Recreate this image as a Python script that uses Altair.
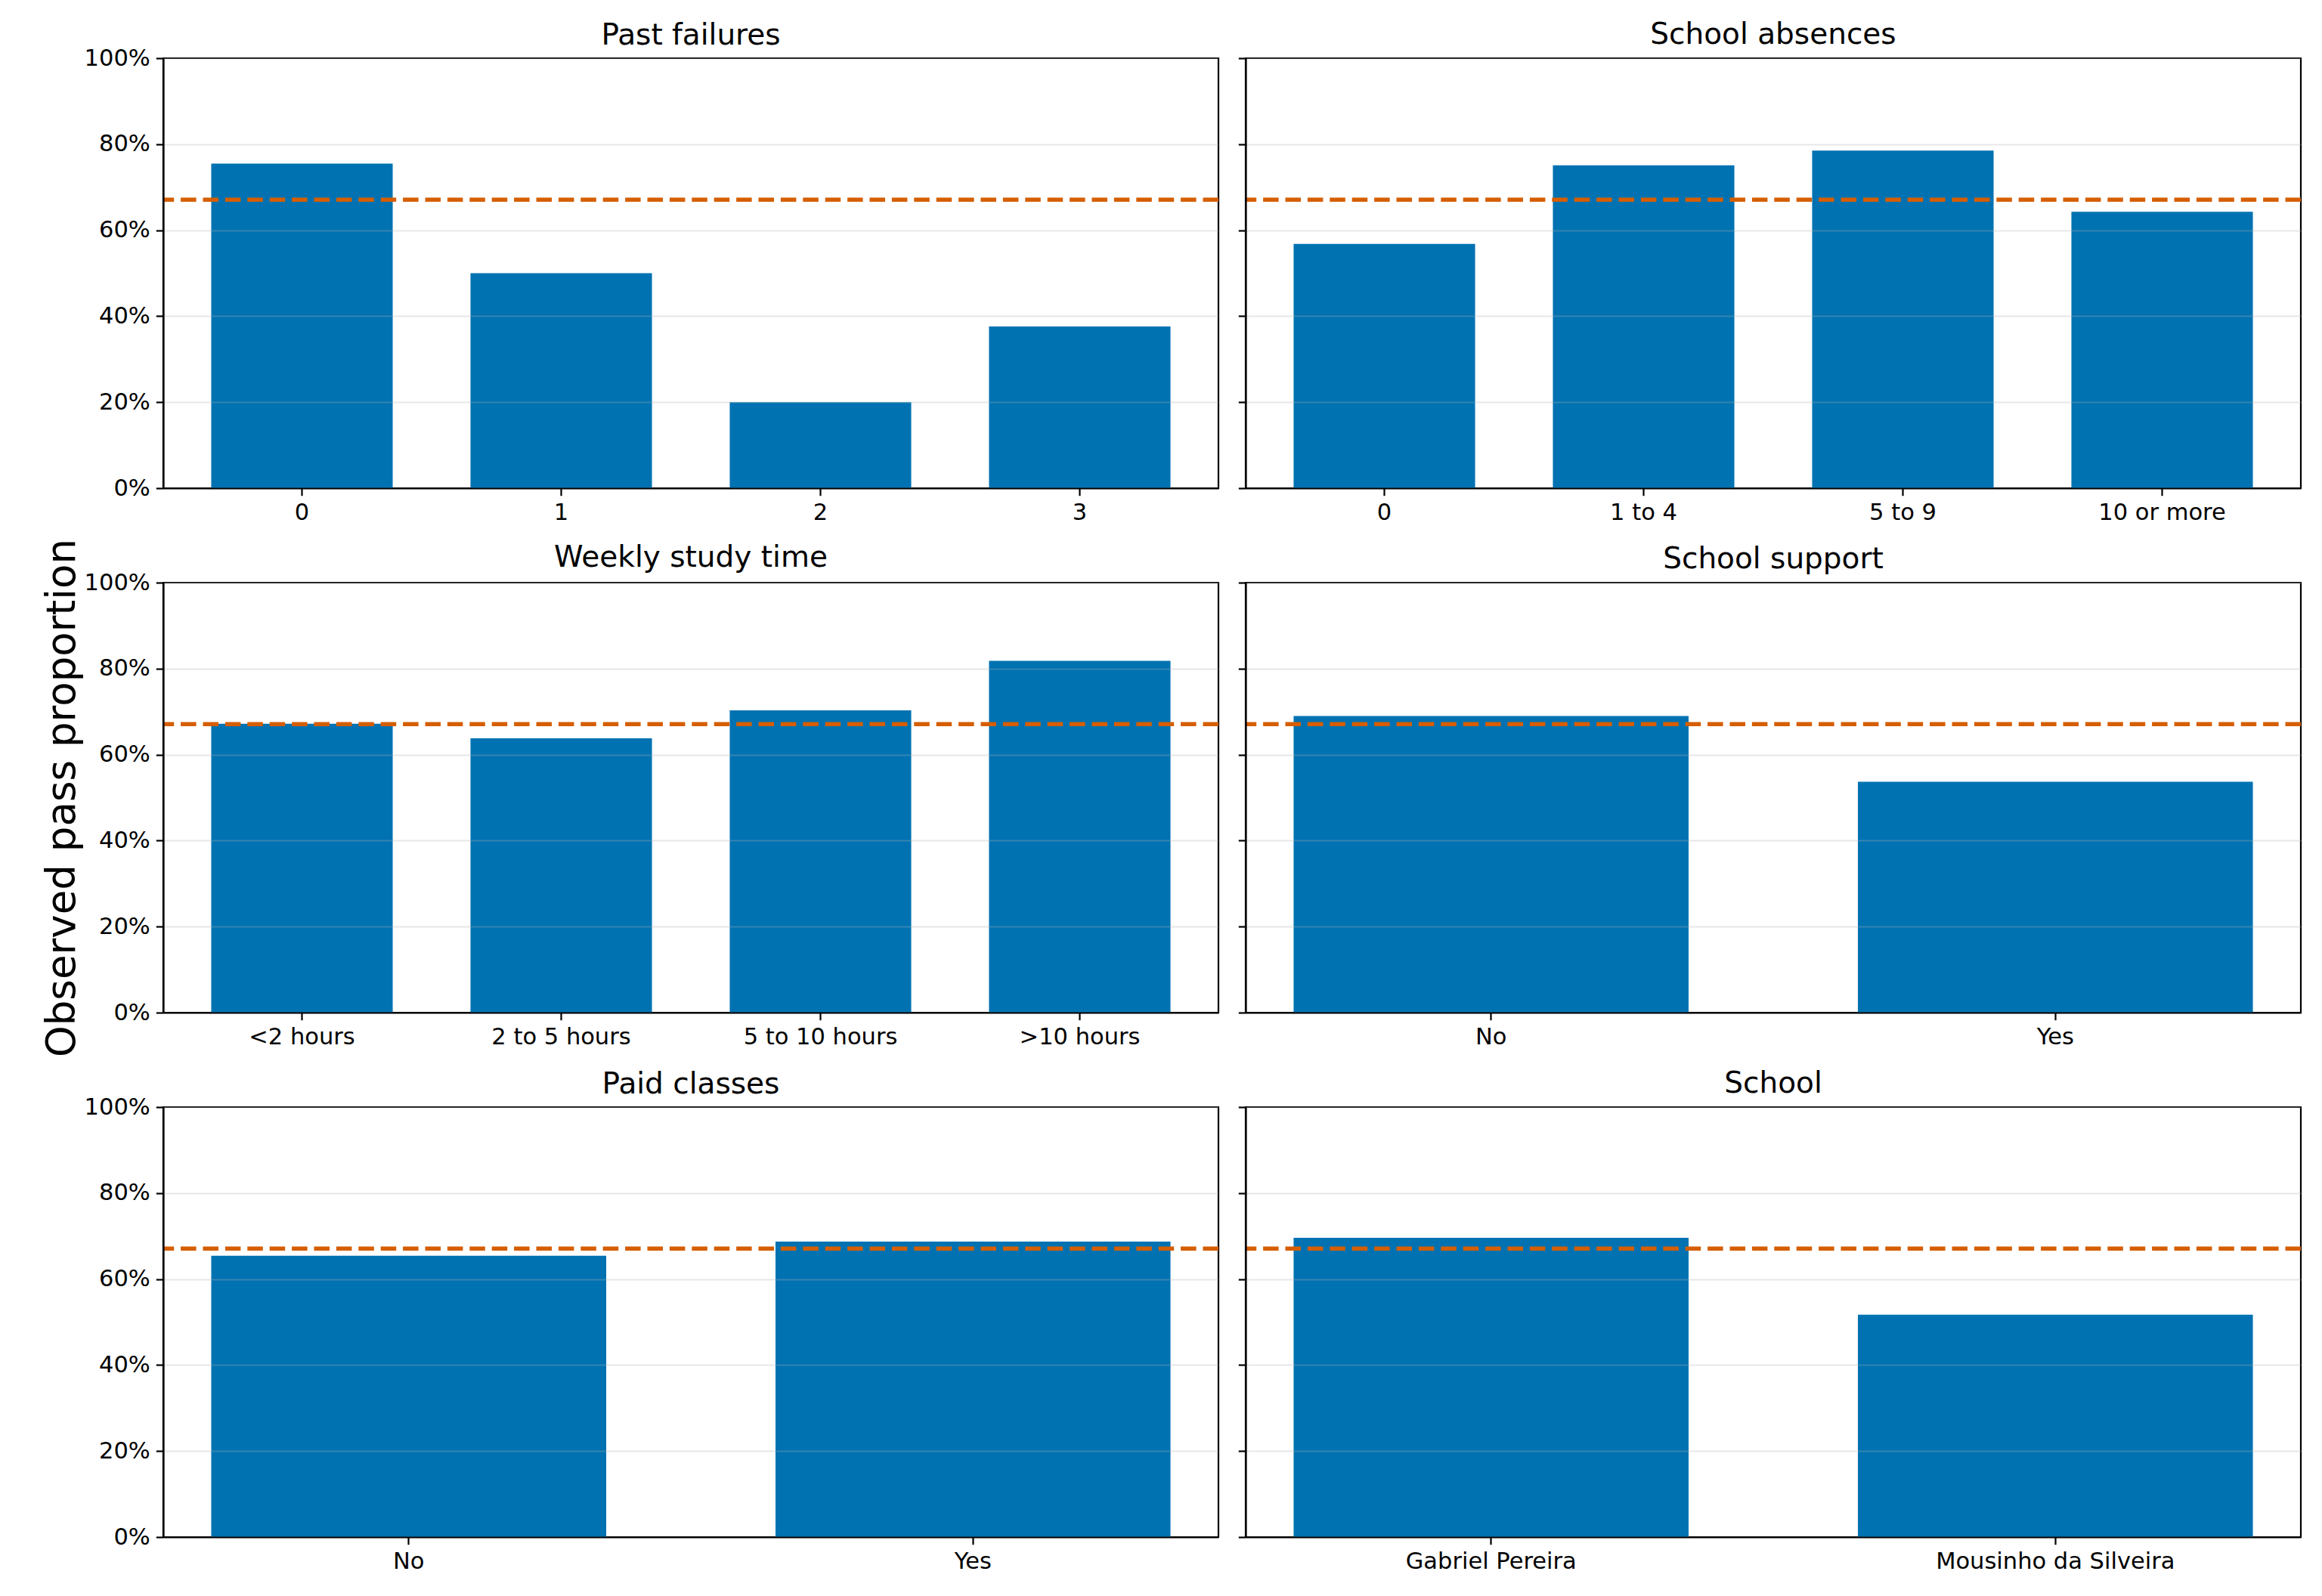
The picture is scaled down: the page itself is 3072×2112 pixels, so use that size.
import altair as alt
import pandas as pd

# ---- data ----
overall_pass = 0.671

titles = ["Past failures", "School absences", "Weekly study time",
          "School support", "Paid classes", "School"]

failures_cats = ["0", "1", "2", "3"]
failures_vals = [0.755, 0.500, 0.200, 0.376]

absences_cats = ["0", "1 to 4", "5 to 9", "10 or more"]
absences_vals = [0.568, 0.751, 0.785, 0.643]

study_cats = ["<2 hours", "2 to 5 hours", "5 to 10 hours", ">10 hours"]
study_vals = [0.672, 0.638, 0.703, 0.818]

support_cats = ["No", "Yes"]
support_vals = [0.690, 0.537]

paid_cats = ["No", "Yes"]
paid_vals = [0.654, 0.687]

school_cats = ["Gabriel Pereira", "Mousinho da Silveira"]
school_vals = [0.696, 0.517]

y_ticks = [0, 0.2, 0.4, 0.6, 0.8, 1.0]

# ---- styling ----
FONT = "DejaVu Sans"
W, H = 1396, 569
BAR = "#0072B2"
LINE = "#D55E00"
LABEL_SIZE = 30.5
YTITLE_SIZE = 53
YTITLE = "Observed pass proportion"
YTITLE_EM = 12.85  # approximate rendered width of the y title, in em


def panel(title, cats, vals, left, ytitle=None, title_dy=0.0):
    df = pd.DataFrame({"category": cats, "rate": vals})
    n = len(cats)
    pad_outer = 0.05 * (n - 1 + 0.7)
    yaxis = alt.Axis(values=y_ticks, format=".0%", labels=left,
                     title=ytitle, titleFontSize=YTITLE_SIZE, titleFont=FONT,
                     titleFontWeight="normal", titleColor="black",
                     titlePadding=2, grid=True, zindex=1)
    bars = alt.Chart(df).mark_bar(color=BAR).encode(
        x=alt.X("category:N", sort=cats, title=None,
                scale=alt.Scale(paddingInner=0.3, paddingOuter=pad_outer),
                axis=alt.Axis(labelAngle=0, grid=False, zindex=1,
                              labelLimit=1000)),
        y=alt.Y("rate:Q", scale=alt.Scale(domain=[0, 1], nice=False),
                axis=yaxis),
    )
    ref = alt.Chart(pd.DataFrame({"overall": [overall_pass]})).mark_rule(
        color=LINE, strokeWidth=5.5, strokeDash=[20.5, 8.9]
    ).encode(y="overall:Q")
    return alt.layer(bars, ref).properties(
        width=W, height=H,
        title=alt.TitleParams(title, fontSize=39, font=FONT,
                              fontWeight="normal", color="black", offset=10,
                              frame="group", dy=title_dy),
    )


# left-column panels: their bounds reach above the plot (top tick label,
# long y title), so push their titles back down to sit like the right ones
label_over = LABEL_SIZE / 2
ytitle_over = (YTITLE_EM * YTITLE_SIZE - H) / 2

panels = [
    panel(titles[0], failures_cats, failures_vals, True, title_dy=label_over),
    panel(titles[1], absences_cats, absences_vals, False),
    panel(titles[2], study_cats, study_vals, True, ytitle=YTITLE,
          title_dy=max(label_over, ytitle_over)),
    panel(titles[3], support_cats, support_vals, False),
    panel(titles[4], paid_cats, paid_vals, True, title_dy=label_over),
    panel(titles[5], school_cats, school_vals, False),
]

chart = alt.concat(
    *panels, columns=2, spacing={"row": 125, "column": 36}, bounds="flush"
).properties(
    padding={"left": 47, "top": 17, "right": 5, "bottom": 5},
    background="white",
).configure_view(
    stroke="black", strokeWidth=2.2
).configure_axis(
    labelFont=FONT, labelFontSize=LABEL_SIZE, labelColor="black",
    labelPadding=8, labelLimit=1000,
    domain=True, domainColor="black", domainWidth=2.2,
    ticks=True, tickColor="black", tickWidth=2.2, tickSize=9.7,
    gridColor="#b0b0b0", gridOpacity=0.3, gridWidth=2.2,
)

chart.save("out.html", embed_options={"renderer": "svg", "actions": False})
